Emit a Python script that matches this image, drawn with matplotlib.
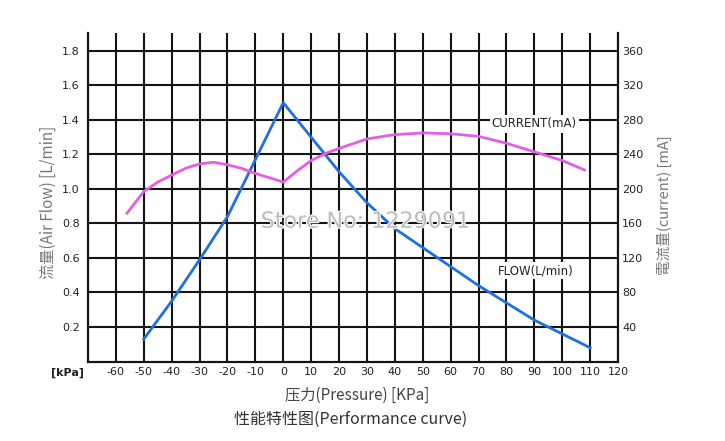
"""
performance curve: flow and current vs pressure
"""

import matplotlib
matplotlib.use('Agg')
import matplotlib.pyplot as plt
import matplotlib.patheffects as pe

plt.rcParams['font.family'] = ['Noto Sans CJK SC', 'DejaVu Sans']

# flow (L/min) vs pressure (kPa)
flowPressure = [-50, -40, -30, -20, -10, 0, 10, 20, 30, 40, 50, 60, 70, 80, 90, 100, 110]
flowValues = [0.13, 0.35, 0.59, 0.84, 1.17, 1.50, 1.30, 1.10, 0.92, 0.77, 0.66, 0.55, 0.44, 0.34, 0.24, 0.16, 0.08]

# current (mA) vs pressure (kPa)
currentPressure = [-56, -50, -45, -40, -35, -30, -25, -20, -15, -10, -5, 0, 5, 10, 15, 20, 30, 40, 50, 60, 70, 80, 90, 100, 108]
currentValues = [172, 197, 208, 216, 224, 229, 231, 228, 224, 218, 213, 208, 221, 233, 241, 247, 258, 263, 265, 264, 261, 253, 243, 233, 222]

xTicks = list(range(-70, 121, 10))
xTickLabels = [''] + [str(t) for t in xTicks[1:]]
flowTicks = [0.2, 0.4, 0.6, 0.8, 1.0, 1.2, 1.4, 1.6, 1.8]
currentTicks = [40, 80, 120, 160, 200, 240, 280, 320, 360]

fig = plt.figure(figsize=(7.25, 4.41), dpi=100)
ax = fig.add_axes([88/725, 79.5/441, 530/725, 328.5/441])
ax2 = ax.twinx()

ax.set_xlim(-70, 120)
ax.set_ylim(0, 1.904)
ax2.set_ylim(0, 380.8)

gridColor = '#141414'
tickFont = ['DejaVu Sans']
ax.set_xticks(xTicks)
ax.set_xticklabels(xTickLabels, fontsize=8, color='#222222', family=tickFont)
ax.set_yticks(flowTicks)
ax.set_yticklabels(['%.1f' % t for t in flowTicks], fontsize=8, color='#222222', family=tickFont)
ax2.set_yticks(currentTicks)
ax2.set_yticklabels([str(t) for t in currentTicks], fontsize=8, color='#222222', family=tickFont)

ax.tick_params(axis='both', length=0)
ax.tick_params(axis='y', pad=6)
ax.tick_params(axis='x', pad=4)
ax2.tick_params(axis='y', length=0, pad=3)

ax.grid(True, color=gridColor, linewidth=1.5)
ax.set_axisbelow(True)

for a in (ax, ax2):
    a.spines['top'].set_visible(False)
    for s in ('left', 'right', 'bottom'):
        a.spines[s].set_color(gridColor)
        a.spines[s].set_linewidth(1.5)

ax.plot(flowPressure, flowValues, color='#1f6fe0', linewidth=2.0, zorder=5)
ax2.plot(currentPressure, currentValues, color='#e35ee6', linewidth=2.0, zorder=5)

# curve labels with white background cutting the grid
ax.text(90, 1.377, 'CURRENT(mA)', fontsize=8.5, color='#222222', ha='center', va='center',
        family=tickFont, bbox=dict(facecolor='white', edgecolor='none', pad=1.5), zorder=6)
ax.text(90.5, 0.527, 'FLOW(L/min)', fontsize=8.5, color='#222222', ha='center', va='center',
        family=tickFont, bbox=dict(facecolor='white', edgecolor='none', pad=1.5), zorder=6)

# watermark
ax.text(29.5, 0.81, 'Store No: 1229091', fontsize=16, color='#bdbdbd', ha='center', va='center',
        family=tickFont, zorder=7,
        path_effects=[pe.withStroke(linewidth=1.5, foreground='white')])

fig.text(68/725, 1 - 373/441, '[kPa]', fontsize=8, color='#222222', ha='center', va='center',
         family=tickFont, fontweight='bold')

fig.text(48/725, 1 - 202/441, '流量(Air Flow) [L/min]', rotation=90, fontsize=11, color='#777777',
         ha='center', va='center')
fig.text(664/725, 1 - 205/441, '電流量(current) [mA]', rotation=90, fontsize=10.5, color='#777777',
         ha='center', va='center')
fig.text(357/725, 1 - 395/441, '压力(Pressure) [KPa]', fontsize=11, color='#444444',
         ha='center', va='center')
fig.text(351/725, 1 - 419/441, '性能特性图(Performance curve)', fontsize=11.5, color='#333333',
         ha='center', va='center')

plt.savefig('out.png', dpi=100)
